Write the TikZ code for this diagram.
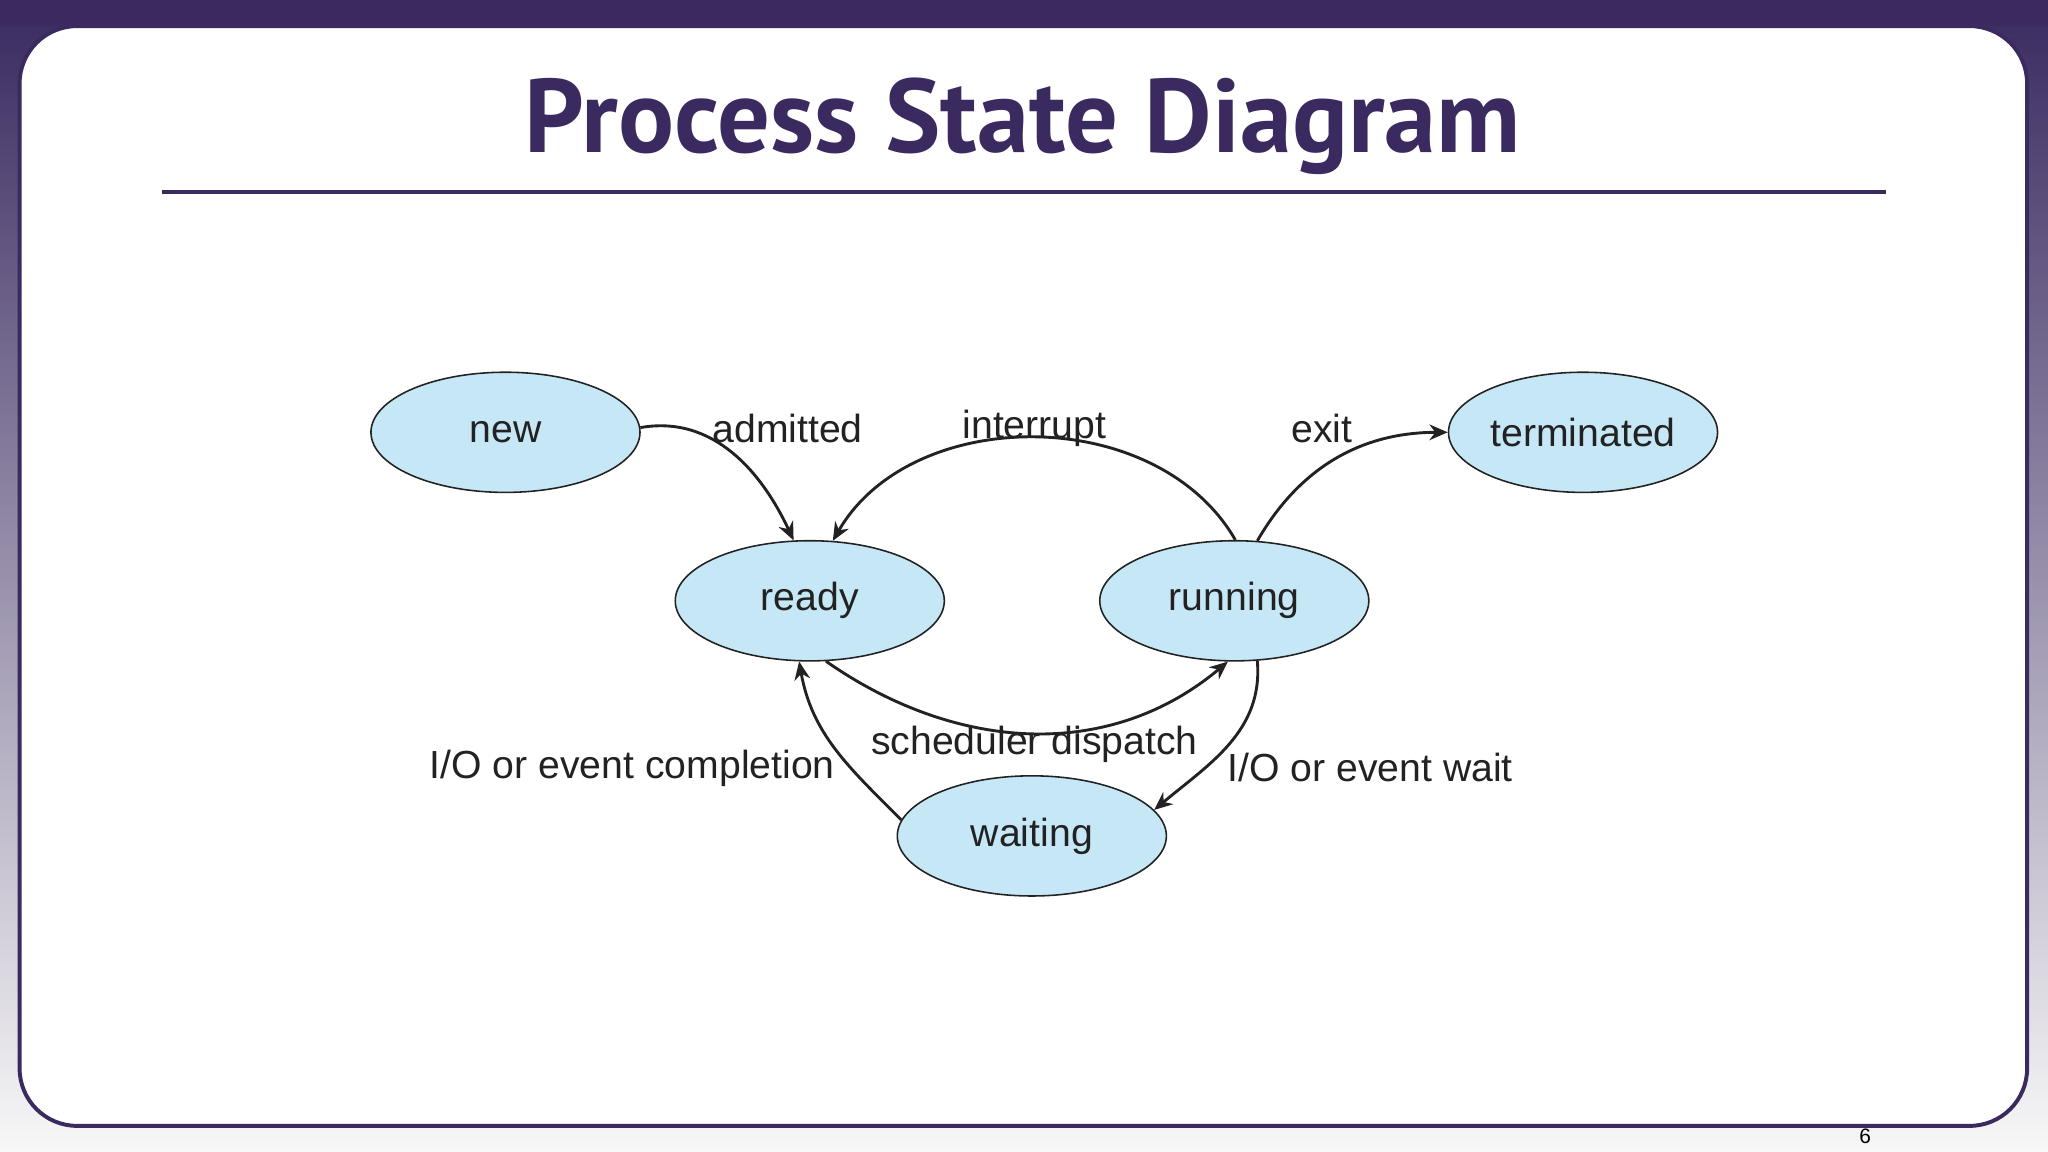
\documentclass[tikz,border=0pt]{standalone}
\usepackage{fontspec}
\setmainfont{Liberation Sans}
\newfontfamily\titlefont{PT Sans}
\usetikzlibrary{arrows.meta,shapes.geometric}
\definecolor{deep}{HTML}{3A2A60}
\definecolor{stfill}{HTML}{C6E7F6}
\definecolor{ink}{HTML}{222222}
\tikzset{
  st/.style={ellipse, draw=ink, line width=0.6pt, fill=stfill, minimum width=103pt, minimum height=46pt, inner sep=0pt, font=\fontsize{15}{18}\selectfont, text=ink},
  lbl/.style={font=\fontsize{15}{18}\selectfont, text=ink},
  edge/.style={draw=ink, line width=1.1pt, -{Stealth[length=7pt,width=6pt]}}
}
\begin{document}
\begin{tikzpicture}[x=0.5pt,y=0.5pt]
\useasboundingbox (0,0) rectangle (1568,882);
\shade[top color=deep, bottom color=white!94!gray] (0,0) rectangle (1568,882);
\fill[deep] (0,862) rectangle (1568,882);
\draw[deep, line width=1.5pt, fill=white, rounded corners=22pt] (15,20) rectangle (1552,862);
\node[font=\titlefont\bfseries\fontsize{40}{48}\selectfont, text=deep] (title) at (783,785) {Process State Diagram};
\draw[deep, line width=1.5pt] (124,735) -- (1444,735);
\node[font=\fontsize{8}{9}\selectfont] (pg) at (1428,12) {6};

\node[st] (new) at (387,551) {new};
\node[st] (ready) at (620,422) {ready};
\node[st] (running) at (945,422) {running};
\node[st] (term) at (1212,551) {terminated};
\node[st] (waiting) at (790,242) {waiting};

\draw[edge] (new.2) to[out=10,in=115] (ready.105);
\draw[edge] (running.89) to[out=120,in=60] (ready.69);
\draw[edge] (ready.-75) to[out=-35,in=-140] (running.-96);
\draw[edge] (running.69) to[out=60,in=180] (term.180);
\draw[edge] (running.-69) to[out=-85,in=40] (waiting.12);
\draw[edge] (waiting.173) to[out=135,in=-80] (ready.-100);

\node[lbl] (l1) at (603,554) {admitted};
\node[lbl] (l2) at (792,554) {interrupt};
\node[lbl] (l3) at (1012,554) {exit};
\node[lbl] (l4) at (792,312) {scheduler dispatch};
\node[lbl] (l5) at (484,294) {I/O or event completion};
\node[lbl] (l6) at (1049,294) {I/O or event wait};
\end{tikzpicture}
\end{document}
